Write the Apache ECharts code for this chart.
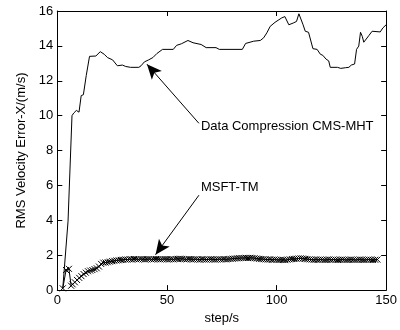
<!DOCTYPE html>
<html>
<head>
<meta charset="utf-8">
<script src="https://cdn.jsdelivr.net/npm/echarts@6/dist/echarts.min.js"></script>
<style>html,body{margin:0;padding:0;background:#fff}#c{width:400px;height:330px}</style>
</head>
<body>
<div id="c"></div>
<script>
// x tick labels / y tick labels
var xTicks = [0, 50, 100, 150];
var yTicks = [0, 2, 4, 6, 8, 10, 12, 14, 16];

// Data Compression CMS-MHT: [step, rms]
var cmsData = [[2.5,0.1],[4.9,3.95],[5.7,3.95],[6.7,10.0],[7.5,10.15],[8.7,10.3],[9.9,10.2],[10.9,11.15],[11.9,11.2],[13.2,12.3],[14.7,13.4],[17.6,13.42],[19.6,13.67],[21.4,13.52],[22.9,13.33],[25.2,13.2],[27.4,12.86],[29.7,12.9],[31.2,12.82],[33.4,12.77],[37.2,12.77],[38.2,12.86],[39.7,13.08],[41.7,13.2],[43.6,13.33],[45.4,13.56],[48,13.8],[52.9,13.8],[54.4,14.03],[56.6,14.12],[59.6,14.31],[61.9,14.18],[65.6,14.08],[67.9,13.9],[72.4,13.9],[73.9,13.8],[84.4,13.8],[85.9,14.14],[89.6,14.27],[92.6,14.31],[94.1,14.46],[95.6,14.75],[97.1,15.12],[99.3,15.35],[102.3,15.6],[103.8,15.68],[104.6,15.78],[105.6,15.21],[107.6,15.31],[109.1,15.4],[110.2,15.84],[110.6,15.84],[112.1,15.21],[113.1,14.84],[114.6,14.78],[116.6,13.84],[118.5,13.8],[120,13.52],[121.1,13.46],[122.6,13.24],[123.8,13.14],[124.5,12.77],[127.8,12.77],[129.3,12.71],[131.5,12.75],[133,12.77],[134.1,12.9],[135.6,12.96],[136.5,13.8],[137.5,13.99],[138.3,14.78],[139.1,14.55],[139.8,14.21],[142.1,14.59],[143.6,14.84],[147.3,14.8],[148.5,15.03],[150,15.21]];

// MSFT-TM: early points [step, rms]
var msftStart = [[2.5,0.1],[4,1.15],[5.3,1.22],[6.3,0.25]];
// MSFT-TM: values for steps 7..150
var msftFirstStep = 7;
var msftValues = [0.33,0.45,0.58,0.7,0.8,0.92,1.0,1.08,1.12,1.15,1.2,1.25,1.35,1.5,1.57,1.58,1.6,1.63,1.66,1.68,1.7,1.71,1.73,1.74,1.76,1.75,1.77,1.76,1.78,1.77,1.76,1.78,1.77,1.76,1.77,1.78,1.76,1.77,1.78,1.77,1.76,1.77,1.78,1.77,1.76,1.77,1.76,1.78,1.79,1.8,1.79,1.77,1.76,1.78,1.77,1.76,1.77,1.76,1.75,1.77,1.76,1.75,1.76,1.77,1.76,1.75,1.76,1.77,1.76,1.77,1.76,1.78,1.79,1.8,1.81,1.82,1.83,1.84,1.84,1.85,1.84,1.85,1.84,1.83,1.81,1.79,1.78,1.77,1.76,1.75,1.76,1.74,1.75,1.74,1.73,1.74,1.73,1.72,1.74,1.76,1.78,1.79,1.8,1.81,1.82,1.81,1.79,1.77,1.76,1.75,1.74,1.75,1.74,1.75,1.74,1.73,1.74,1.75,1.74,1.75,1.74,1.73,1.74,1.75,1.74,1.73,1.74,1.75,1.74,1.73,1.74,1.75,1.74,1.73,1.74,1.75,1.74,1.73,1.74,1.75];

// annotations: text, text anchor [step, rms], arrow tail, arrow tip
var annoText = ['Data Compression CMS-MHT', 'MSFT-TM'];
var annoTextAt = [[65.5, 9.4], [65.5, 5.89]];
var annoTail = [[64.6, 9.56], [64.6, 5.44]];
var annoTip = [[40.9, 12.95], [44.8, 2.03]];

var msftData = msftStart.slice();
for (var i = 0; i < msftValues.length; i++) msftData.push([msftFirstStep + i, msftValues[i]]);

var FONT = 'Liberation Sans, Arial, sans-serif';
var chart = echarts.init(document.getElementById('c'), null, {renderer: 'canvas'});

function axisCommon(showLabel) {
  return {
    axisLine: {show: true, onZero: false, lineStyle: {color: '#000', width: 1}},
    axisTick: {show: true, inside: true, length: 5, lineStyle: {color: '#000', width: 1}},
    splitLine: {show: false},
    axisLabel: {show: showLabel, color: '#000', fontSize: 13, fontFamily: FONT, margin: 4}
  };
}

var xb = Object.assign({type: 'value', position: 'bottom', min: 0, max: 150, interval: 50,
  name: 'step/s', nameLocation: 'middle', nameGap: 19,
  nameTextStyle: {color: '#000', fontSize: 13, fontFamily: FONT}}, axisCommon(true));
xb.axisLabel.formatter = function (v) { return xTicks.indexOf(v) >= 0 ? String(v) : ''; };
var xt = Object.assign({type: 'value', position: 'top', min: 0, max: 150, interval: 50}, axisCommon(false));
var yl = Object.assign({type: 'value', position: 'left', min: 0, max: 16, interval: 2,
  name: 'RMS Velocity Error-X/(m/s)', nameLocation: 'middle', nameGap: 23,
  nameTextStyle: {color: '#000', fontSize: 13, fontFamily: FONT}}, axisCommon(true));
yl.axisLabel.formatter = function (v) { return yTicks.indexOf(v) >= 0 ? String(v) : ''; };
var yr = Object.assign({type: 'value', position: 'right', min: 0, max: 16, interval: 2}, axisCommon(false));

var markLineData = [], markPointData = [];
for (var k = 0; k < annoText.length; k++) {
  markLineData.push([{coord: annoTail[k]}, {coord: annoTip[k]}]);
  markPointData.push({coord: annoTextAt[k], value: annoText[k],
    label: {show: true, position: 'right', distance: 0, formatter: annoText[k], color: '#000', fontSize: 13, fontFamily: FONT}});
}

chart.setOption({
  animation: false,
  backgroundColor: '#fff',
  grid: {left: 57.3, right: 9, top: 11, bottom: 35.7, containLabel: false},
  xAxis: [xb, xt],
  yAxis: [yl, yr],
  series: [
    {
      type: 'line', name: 'Data Compression CMS-MHT', data: cmsData, xAxisIndex: 0, yAxisIndex: 0,
      showSymbol: false, symbol: 'none', lineStyle: {color: '#000', width: 1}, z: 3,
      markLine: {silent: true, symbol: ['none', 'arrow'], symbolSize: [10, 15], precision: 3,
        lineStyle: {color: '#000', width: 1, type: 'solid'}, label: {show: false}, data: markLineData},
      markPoint: {silent: true, symbol: 'circle', symbolSize: 0, itemStyle: {color: 'transparent'}, data: markPointData}
    },
    {
      type: 'line', name: 'MSFT-TM', data: msftData, xAxisIndex: 0, yAxisIndex: 0,
      symbol: 'path://M0,0L10,10M10,0L0,10', symbolSize: 6, showAllSymbol: true,
      itemStyle: {color: 'rgba(0,0,0,0)', borderColor: '#000', borderWidth: 1},
      lineStyle: {color: '#000', width: 1}, z: 4
    }
  ]
});
</script>
</body>
</html>
